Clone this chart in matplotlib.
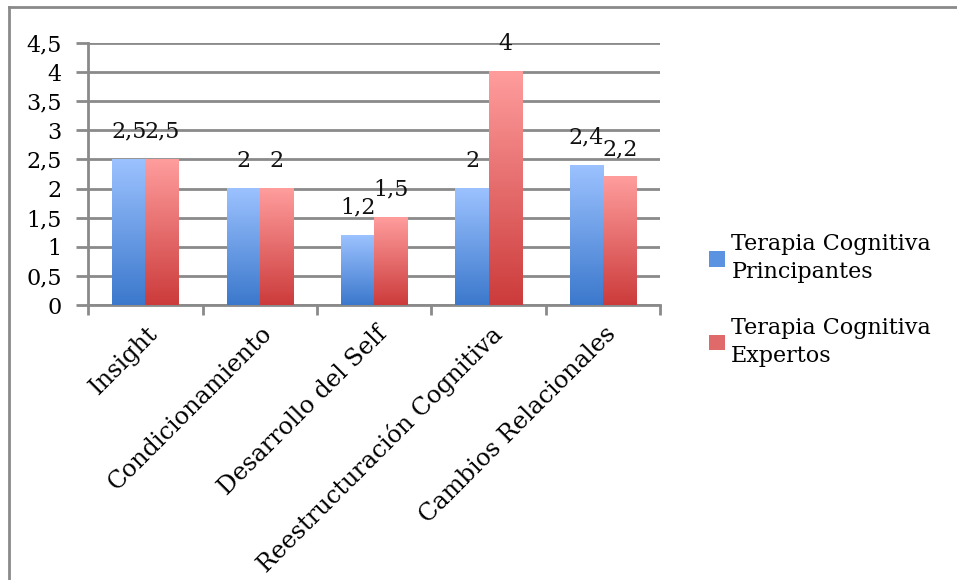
import numpy as np
import matplotlib.pyplot as plt
from matplotlib.colors import LinearSegmentedColormap
from matplotlib.lines import Line2D
from matplotlib.patches import Patch
from matplotlib import transforms

plt.rcParams['font.family'] = ['DejaVu Serif']

categories = ["Insight", "Condicionamiento", "Desarrollo del Self",
              "Reestructuración Cognitiva", "Cambios Relacionales"]
principiantes = [2.5, 2.0, 1.2, 2.0, 2.4]
expertos = [2.5, 2.0, 1.5, 4.0, 2.2]
series_names = ["Terapia Cognitiva\nPrincipantes", "Terapia Cognitiva\nExpertos"]

blue_cmap = LinearSegmentedColormap.from_list("b", ["#3b78cc", "#9cc2ff"])
red_cmap = LinearSegmentedColormap.from_list("r", ["#cc3b3b", "#ff9d9d"])

fs = 16

fig = plt.figure(figsize=(9.57, 5.80), dpi=100)
ax = fig.add_axes([0.092, 0.474, 0.598, 0.452])

x = np.arange(len(categories))
w = 0.29
grad = np.linspace(0, 1, 256).reshape(-1, 1)

for vals, off, cmap in [(principiantes, -w / 2, blue_cmap), (expertos, w / 2, red_cmap)]:
    bars = ax.bar(x + off, vals, w, color="none", zorder=3)
    for b, v in zip(bars, vals):
        x0, x1 = b.get_x(), b.get_x() + b.get_width()
        ax.imshow(grad, extent=[x0, x1, 0, v], origin="lower", aspect="auto",
                  cmap=cmap, zorder=3)
        ax.annotate(f"{v:g}".replace(".", ","), (b.get_x() + b.get_width() / 2, v),
                    xytext=(0, 20), textcoords="offset points",
                    ha="center", va="center", fontsize=fs, color="#111111")

ax.set_xlim(-0.5, len(categories) - 0.5)
ax.set_ylim(0, 4.5)
yt = np.arange(0, 4.51, 0.5)
ax.set_yticks(yt)
ax.set_yticklabels([f"{v:g}".replace(".", ",") for v in yt], fontsize=fs)
ax.yaxis.grid(True, color="#8a8a8a", linewidth=2)
ax.set_axisbelow(True)

ax.set_xticks(np.arange(-0.5, len(categories), 1.0))
ax.set_xticklabels([])
ax.set_xticks(x, minor=True)
ax.set_xticklabels(categories, minor=True, rotation=45, ha="right",
                   va="top", rotation_mode="anchor", fontsize=17.3)
ax.tick_params(axis="x", which="minor", length=0, pad=8)
ax.tick_params(axis="x", which="major", length=7, width=2, color="#8a8a8a")
ax.tick_params(axis="y", length=9, width=2, color="#8a8a8a", pad=10)
offset = transforms.ScaledTranslation(1 / 100, -6 / 100, fig.dpi_scale_trans)
for lab in ax.get_xticklabels(minor=True):
    lab.set_transform(lab.get_transform() + offset)

for s in ["top", "right"]:
    ax.spines[s].set_visible(False)
for s in ["left", "bottom"]:
    ax.spines[s].set_color("#8a8a8a")
    ax.spines[s].set_linewidth(2)

handles = [Patch(facecolor="#5b93e0"), Patch(facecolor="#e06a6a")]
leg = fig.legend(handles, series_names, loc="upper left", bbox_to_anchor=(0.720, 0.632),
                 frameon=False, fontsize=fs, handlelength=0.7, handleheight=0.7,
                 handletextpad=0.3, labelspacing=1.5)
for t in leg.get_texts():
    t.set_linespacing(1.35)

fig.add_artist(Line2D([9 / 957, 9 / 957], [0, 1 - 7 / 580], color="#8a8a8a", lw=2))
fig.add_artist(Line2D([9 / 957, 1], [1 - 7 / 580, 1 - 7 / 580], color="#8a8a8a", lw=2))

fig.savefig("out.png", dpi=100)
